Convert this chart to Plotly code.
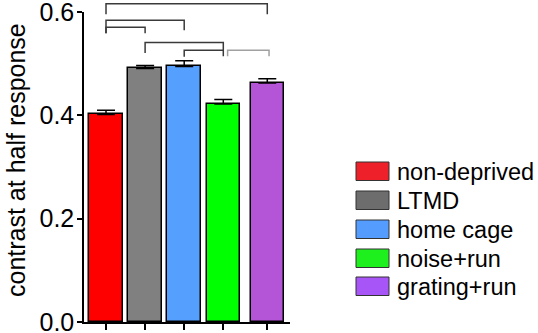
import plotly.graph_objects as go

# ---- data ----
categories = ["non-deprived", "LTMD", "home cage", "noise+run", "grating+run"]
values = [0.402, 0.491, 0.495, 0.422, 0.463]
errors = [0.008, 0.006, 0.011, 0.009, 0.008]
x_pos = [0, 1, 2, 3, 4.125]
bar_colors = ["#FF0000", "#808080", "#55A0FF", "#00FF00", "#B455D8"]
legend_colors = ["#EE2029", "#6D6D6D", "#559CFF", "#1EF01E", "#A855F7"]
y_ticks = [0.0, 0.2, 0.4, 0.6]
y_tick_labels = ["0.0", "0.2", "0.4", "0.6"]

# significance brackets (x in category units, heights in data units)
br_left = [0, 0, 0, 1, 2, 3.11]
br_right = [4.125, 2, 1, 3, 3, 4.17]
br_top = [0.6165, 0.5845, 0.5710, 0.5414, 0.5265, 0.5265]
br_left_end = [0.5961, 0.5594, 0.5594, 0.5212, 0.5135, 0.5148]
br_right_end = [0.5961, 0.5652, 0.5594, 0.5148, 0.5265, 0.5148]
br_colors = ["#3A3A3A", "#3A3A3A", "#3A3A3A", "#3A3A3A", "#3A3A3A", "#A0A0A0"]

FONT = "Liberation Sans, Arial, sans-serif"
W, H = 538, 333
ML, MR, MT, MB = 84, 248, 12, 11
PW, PH = W - ML - MR, H - MT - MB
XMIN, XMAX = -0.563, 4.706
YMIN, YMAX = 0.0, 0.6004


def xp(v):
    return (v - XMIN) / (XMAX - XMIN)


def yp(v):
    return (v - YMIN) / (YMAX - YMIN)


def px_x(p):
    return (p - ML) / PW


def px_y(p):
    return (H - MB - p) / PH


fig = go.Figure()
fig.add_trace(go.Bar(
    x=x_pos, y=values, width=0.857,
    marker=dict(color=bar_colors, line=dict(color="black", width=1.5)),
    error_y=dict(type="data", array=errors, arrayminus=[0] * len(errors),
                 symmetric=False, color="black", thickness=1.5, width=9),
    showlegend=False, hoverinfo="skip",
))

shapes = []
for l, r, t, le, re_, c in zip(br_left, br_right, br_top, br_left_end, br_right_end, br_colors):
    path = (f"M {xp(l)},{yp(le)} L {xp(l)},{yp(t)} "
            f"L {xp(r)},{yp(t)} L {xp(r)},{yp(re_)}")
    shapes.append(dict(type="path", path=path, xref="paper", yref="paper",
                       line=dict(color=c, width=1.5)))

annotations = []
row_tops = [162, 191, 220, 249, 277]
for i, (name, col) in enumerate(zip(categories, legend_colors)):
    top = row_tops[i]
    shapes.append(dict(type="rect", xref="paper", yref="paper",
                       x0=px_x(356), x1=px_x(389), y0=px_y(top + 18.5), y1=px_y(top),
                       fillcolor=col, line=dict(color="#333333", width=1)))
    annotations.append(dict(text=name, xref="paper", yref="paper",
                            x=px_x(395), y=px_y(top + 9.5), xanchor="left", yanchor="middle",
                            showarrow=False, font=dict(family=FONT, size=23.5, color="black")))

annotations.append(dict(text="contrast at half response", textangle=-90,
                        xref="paper", yref="paper", x=px_x(16), y=px_y(160),
                        xanchor="center", yanchor="middle", showarrow=False,
                        font=dict(family=FONT, size=25, color="black")))

fig.update_layout(
    width=W, height=H,
    margin=dict(l=ML, r=MR, t=MT, b=MB, pad=0, autoexpand=False),
    paper_bgcolor="white", plot_bgcolor="white",
    font=dict(family=FONT, color="black"),
    bargap=0,
    shapes=shapes, annotations=annotations,
    xaxis=dict(range=[XMIN, XMAX], tickvals=x_pos, showticklabels=False,
               ticks="outside", ticklen=6, tickwidth=1.5, tickcolor="black",
               showline=True, linewidth=1.5, linecolor="black", automargin=False,
               showgrid=False, zeroline=False, fixedrange=True),
    yaxis=dict(range=[YMIN, YMAX], tickvals=y_ticks, ticktext=y_tick_labels,
               ticks="outside", ticklen=5, tickwidth=1.5, tickcolor="black",
               showline=True, linewidth=1.5, linecolor="black", automargin=False,
               ticklabeloverflow="allow", ticklabelstandoff=-2,
               tickfont=dict(family=FONT, size=25, color="black"),
               showgrid=False, zeroline=False, fixedrange=True),
)

fig.write_html("out.html", config={"displayModeBar": False},
               post_script="document.body.style.margin='0';document.body.style.overflow='hidden';")
